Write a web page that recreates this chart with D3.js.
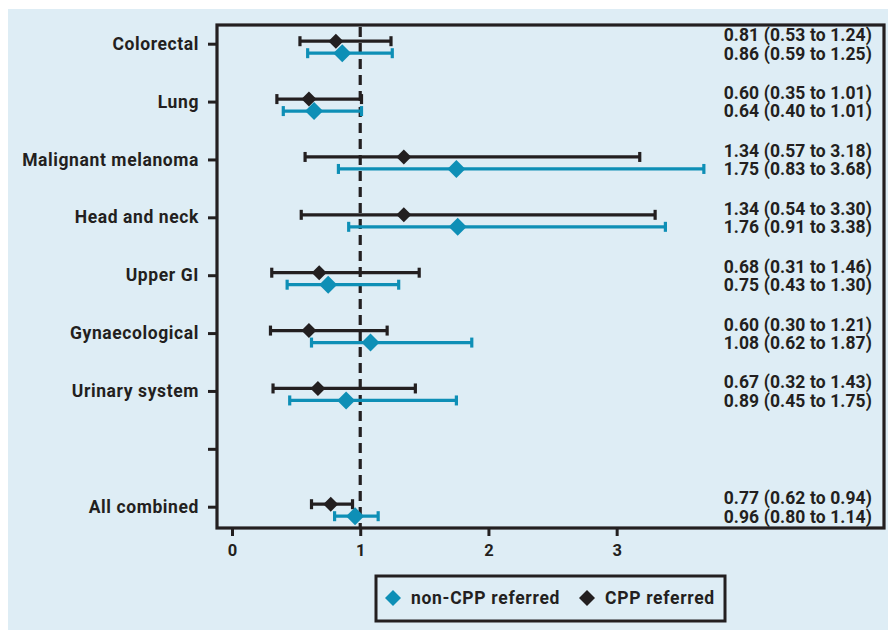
<!DOCTYPE html>
<html><head><meta charset="utf-8">
<script src="https://cdn.jsdelivr.net/npm/d3@7"></script>
<style>html,body{margin:0;padding:0;background:#fff;}svg{display:block;}text{font-family:Roboto,"DejaVu Sans",sans-serif;font-weight:700;fill:#231f20;}</style>
</head><body>
<script>
const categories = ["Colorectal","Lung","Malignant melanoma","Head and neck","Upper GI","Gynaecological","Urinary system","","All combined"];
const cppEst   = [0.81,0.60,1.34,1.34,0.68,0.60,0.67,null,0.77];
const cppLow   = [0.53,0.35,0.57,0.54,0.31,0.30,0.32,null,0.62];
const cppHigh  = [1.24,1.01,3.18,3.30,1.46,1.21,1.43,null,0.94];
const nonEst   = [0.86,0.64,1.75,1.76,0.75,1.08,0.89,null,0.96];
const nonLow   = [0.59,0.40,0.83,0.91,0.43,0.62,0.45,null,0.80];
const nonHigh  = [1.25,1.01,3.68,3.38,1.30,1.87,1.75,null,1.14];
const xTicks = [0,1,2,3];
const seriesNames = ["non-CPP referred","CPP referred"];

const W=888,H=630;
const BG="#deedf5", TEAL="#0e8fb6", BLACK="#231f20";
const svg=d3.select("body").append("svg").attr("width",W).attr("height",H);
svg.append("rect").attr("x",8).attr("y",9).attr("width",W-8).attr("height",H-9).attr("fill",BG);

const L=217,R=884,T=25,B=528;
const x=d3.scaleLinear().domain([-0.117,5.085]).range([L,R]);
const y=d3.scalePoint().domain(categories).range([43.7,506.7]);

// dashed reference line
svg.append("line").attr("x1",x(1)).attr("x2",x(1)).attr("y1",T+2).attr("y2",B)
  .attr("stroke",BLACK).attr("stroke-width",3.2).attr("stroke-dasharray","10,6");

// frame
svg.append("rect").attr("x",L).attr("y",T).attr("width",R-L).attr("height",B-T)
  .attr("fill","none").attr("stroke",BLACK).attr("stroke-width",3.2);

// axes
const xAxis=svg.append("g").attr("transform",`translate(0,${B})`)
  .call(d3.axisBottom(x).tickValues(xTicks).tickFormat(d3.format("d")).tickSize(8).tickPadding(8));
xAxis.select(".domain").remove();
xAxis.selectAll("line").attr("stroke",BLACK).attr("stroke-width",3);
xAxis.selectAll("text").attr("font-size",16.5).attr("fill",BLACK).attr("font-family","Roboto").attr("font-weight",700);

const yAxis=svg.append("g").attr("transform",`translate(${L},0)`)
  .call(d3.axisLeft(y).tickSize(9).tickPadding(9));
yAxis.select(".domain").remove();
yAxis.selectAll("line").attr("stroke",BLACK).attr("stroke-width",3);
yAxis.selectAll("text").attr("font-size",17.5).attr("fill",BLACK).attr("font-family","Roboto").attr("font-weight",700).attr("letter-spacing","0.6px");

const rows=categories.map((c,i)=>({c,i})).filter(d=>cppEst[d.i]!=null);

function drawSeries(est,low,high,color,dy,half){
  const g=svg.append("g");
  rows.forEach(d=>{
    const yy=y(d.c)+dy;
    g.append("line").attr("x1",x(low[d.i])).attr("x2",x(high[d.i])).attr("y1",yy).attr("y2",yy)
      .attr("stroke",color).attr("stroke-width",3.2);
    [low[d.i],high[d.i]].forEach(v=>{
      g.append("line").attr("x1",x(v)).attr("x2",x(v)).attr("y1",yy-5).attr("y2",yy+5)
        .attr("stroke",color).attr("stroke-width",3.2);
    });
    const cx=x(est[d.i]);
    g.append("path").attr("d",`M${cx},${yy-half}L${cx+half},${yy}L${cx},${yy+half}L${cx-half},${yy}Z`).attr("fill",color);
  });
}
drawSeries(cppEst,cppLow,cppHigh,BLACK,-2.5,7.5);
drawSeries(nonEst,nonLow,nonHigh,TEAL,9.5,9);

// right-side text
const f=d3.format(".2f");
rows.forEach(d=>{
  const yy=y(d.c);
  svg.append("text").attr("x",872).attr("y",yy-8.5).attr("text-anchor","end").attr("dominant-baseline","central")
    .attr("font-size",17.5).attr("letter-spacing","0.1px").text(`${f(cppEst[d.i])} (${f(cppLow[d.i])} to ${f(cppHigh[d.i])})`);
  svg.append("text").attr("x",872).attr("y",yy+9.8).attr("text-anchor","end").attr("dominant-baseline","central")
    .attr("font-size",17.5).attr("letter-spacing","0.1px").text(`${f(nonEst[d.i])} (${f(nonLow[d.i])} to ${f(nonHigh[d.i])})`);
});

// legend
const lg=svg.append("g");
lg.append("rect").attr("x",376).attr("y",576).attr("width",349).attr("height",45)
  .attr("fill",BG).attr("stroke",BLACK).attr("stroke-width",3);
const legendItems=[{name:seriesNames[0],color:TEAL,x:393},{name:seriesNames[1],color:BLACK,x:587}];
legendItems.forEach(it=>{
  const cy=598,h=8;
  lg.append("path").attr("d",`M${it.x},${cy-h}L${it.x+h},${cy}L${it.x},${cy+h}L${it.x-h},${cy}Z`).attr("fill",it.color);
  lg.append("text").attr("x",it.x+18).attr("y",cy).attr("dominant-baseline","central")
    .attr("font-size",17.5).attr("letter-spacing","0.7px").text(it.name);
});
</script>
</body></html>
